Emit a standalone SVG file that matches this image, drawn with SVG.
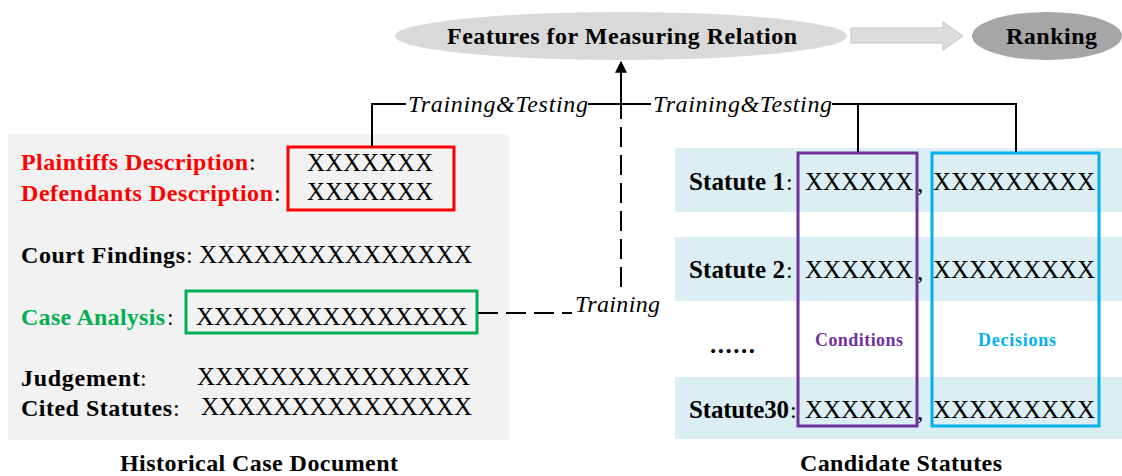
<svg xmlns="http://www.w3.org/2000/svg" width="1122" height="476" viewBox="0 0 1122 476">
<style>
text{font-family:"Liberation Serif","Times New Roman",serif;fill:#000}
.lb{font-weight:bold;font-size:24px}
.co{font-size:24px}
.x{font-size:25px}
.st{font-weight:bold;font-size:25px}
.it{font-style:italic;font-size:24px}
.cap{font-weight:bold;font-size:24px}
.ln{fill:none;stroke:#000;stroke-width:2}
.dash{fill:none;stroke:#000;stroke-width:2;stroke-dasharray:20 8}
.band{fill:#DAEEF3}
</style>
<defs>
<marker id="ah" viewBox="0 0 10 10" refX="9" refY="5" markerWidth="7" markerHeight="6" markerUnits="strokeWidth" orient="auto">
<path d="M0,0 L10,5 L0,10 z" fill="#000"/>
</marker>
</defs>

<g id="historical-doc">
<rect x="8" y="134" width="501" height="306" fill="#F2F2F2"/>
<text class="lb" x="21" y="170" textLength="227" lengthAdjust="spacing" style="fill:#FF0000">Plaintiffs Description</text>
<text class="co" x="249" y="170">:</text>
<text class="lb" x="21" y="201" textLength="252" lengthAdjust="spacing" style="fill:#FF0000">Defendants Description</text>
<text class="co" x="274" y="201">:</text>
<rect x="288" y="147" width="166" height="63" fill="none" stroke="#FF0000" stroke-width="3"/>
<text class="x" x="307" y="171" textLength="126" lengthAdjust="spacing">XXXXXXX</text>
<text class="x" x="307" y="200" textLength="126" lengthAdjust="spacing">XXXXXXX</text>
<text class="lb" x="21" y="263" textLength="164" lengthAdjust="spacing">Court Findings</text>
<text class="co" x="186" y="263">:</text>
<text class="x" x="199" y="263" textLength="273" lengthAdjust="spacing">XXXXXXXXXXXXXXX</text>
<text class="lb" x="21" y="325" textLength="144" lengthAdjust="spacing" style="fill:#00B050">Case Analysis</text>
<text class="co" x="167" y="325">:</text>
<rect x="186" y="291" width="291" height="42" fill="none" stroke="#00B050" stroke-width="3"/>
<text class="x" x="196" y="325" textLength="271" lengthAdjust="spacing">XXXXXXXXXXXXXXX</text>
<text class="lb" x="21" y="386" textLength="119" lengthAdjust="spacing">Judgement</text>
<text class="co" x="140" y="386">:</text>
<text class="x" x="197" y="385" textLength="273" lengthAdjust="spacing">XXXXXXXXXXXXXXX</text>
<text class="lb" x="21" y="416" textLength="151" lengthAdjust="spacing">Cited Statutes</text>
<text class="co" x="173" y="416">:</text>
<text class="x" x="201" y="415" textLength="271" lengthAdjust="spacing">XXXXXXXXXXXXXXX</text>
<text class="cap" x="120" y="471" textLength="278" lengthAdjust="spacing">Historical Case Document</text>
</g>

<g id="candidate-statutes">
<rect class="band" x="675" y="148" width="447" height="64"/>
<rect class="band" x="675" y="237" width="447" height="64"/>
<rect class="band" x="675" y="377" width="447" height="62"/>
<text class="st" x="689" y="190" textLength="96" lengthAdjust="spacing">Statute 1</text>
<text class="co" x="786" y="190">:</text>
<text class="x" x="805" y="190" textLength="108" lengthAdjust="spacing">XXXXXX</text>
<text class="x" x="917" y="192">,</text>
<text class="x" x="933" y="190" textLength="162" lengthAdjust="spacing">XXXXXXXXX</text>
<text class="st" x="689" y="278" textLength="96" lengthAdjust="spacing">Statute 2</text>
<text class="co" x="786" y="278">:</text>
<text class="x" x="805" y="278" textLength="108" lengthAdjust="spacing">XXXXXX</text>
<text class="x" x="917" y="280">,</text>
<text class="x" x="933" y="278" textLength="162" lengthAdjust="spacing">XXXXXXXXX</text>
<text class="st" x="710" y="353" textLength="45" lengthAdjust="spacing">......</text>
<text class="st" x="689" y="418" textLength="100" lengthAdjust="spacing">Statute30</text>
<text class="co" x="790" y="418">:</text>
<text class="x" x="805" y="418" textLength="108" lengthAdjust="spacing">XXXXXX</text>
<text class="x" x="917" y="420">,</text>
<text class="x" x="933" y="418" textLength="162" lengthAdjust="spacing">XXXXXXXXX</text>
<text class="cap" x="800" y="471" textLength="202" lengthAdjust="spacing">Candidate Statutes</text>
</g>

<g id="conditions">
<rect x="798" y="153" width="119" height="273" fill="none" stroke="#7030A0" stroke-width="3"/>
<text x="815" y="346" font-weight="bold" font-size="18" textLength="88" lengthAdjust="spacing" style="fill:#7030A0">Conditions</text>
</g>

<g id="decisions">
<rect x="932" y="153" width="167" height="273" fill="none" stroke="#00B0F0" stroke-width="3"/>
<text x="978" y="346" font-weight="bold" font-size="18" textLength="78" lengthAdjust="spacing" style="fill:#00B0F0">Decisions</text>
</g>

<g id="features">
<ellipse cx="621" cy="36" rx="226" ry="24" fill="#D9D9D9"/>
<text class="cap" x="447" y="44" textLength="350" lengthAdjust="spacing" font-size="25">Features for Measuring Relation</text>
</g>

<g id="ranking">
<ellipse cx="1047" cy="36" rx="75" ry="24" fill="#A6A6A6"/>
<text class="cap" x="1006" y="44" textLength="91" lengthAdjust="spacing" font-size="25">Ranking</text>
</g>

<g id="connectors">
<polygon points="851,28 943,28 943,22 963,36 943,50 943,43 851,43" fill="#DDDDDD" stroke="#C4C4C4" stroke-width="1"/>
<path class="ln" d="M372,147 V104 H406"/>
<path class="ln" d="M588,104 H651"/>
<path class="ln" d="M832,104 H1016 V152"/>
<path class="ln" d="M858,104 V152"/>
<path class="ln" d="M621,112 V62" marker-end="url(#ah)"/>
<path class="dash" d="M621,287 V112"/>
<path class="dash" d="M478,313 H572"/>
<text class="it" x="408" y="112" textLength="180" lengthAdjust="spacing">Training&amp;Testing</text>
<text class="it" x="653" y="112" textLength="179" lengthAdjust="spacing">Training&amp;Testing</text>
<text class="it" x="575" y="312" textLength="85" lengthAdjust="spacing">Training</text>
</g>
</svg>
